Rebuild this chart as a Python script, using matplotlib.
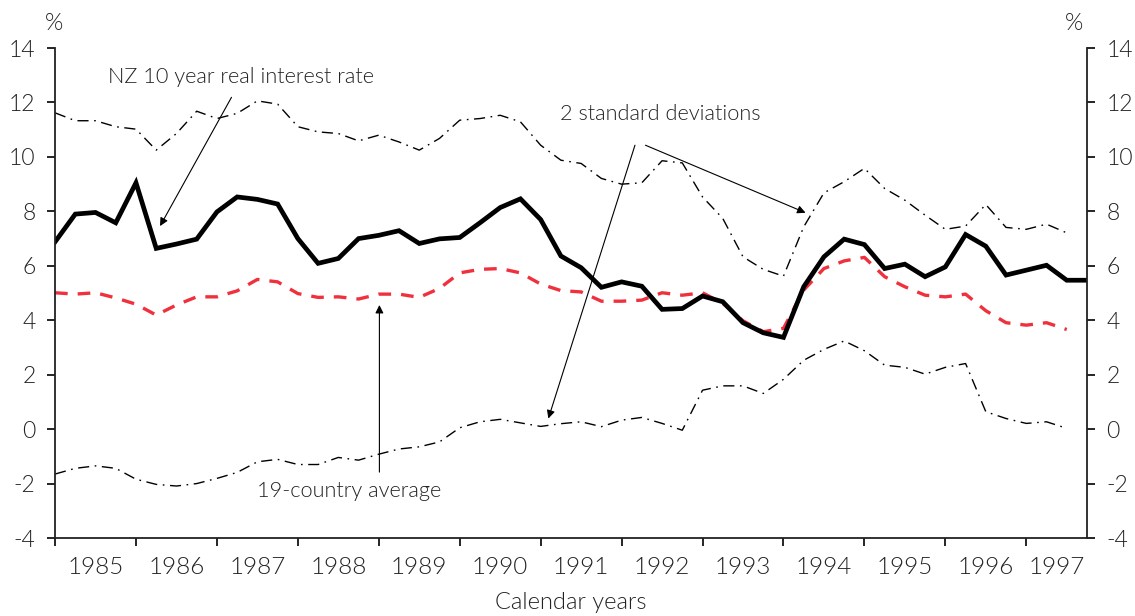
import matplotlib
matplotlib.use('Agg')
import matplotlib.pyplot as plt
import numpy as np

# quarterly data, 1985Q1 onwards
nz_rate = [6.88, 7.90, 7.96, 7.58, 9.05, 6.64, 6.80, 6.98, 7.98, 8.53, 8.44, 8.27,
           7.00, 6.09, 6.27, 7.00, 7.12, 7.29, 6.82, 6.99, 7.04, 7.58, 8.14, 8.46,
           7.70, 6.36, 5.93, 5.21, 5.41, 5.25, 4.40, 4.43, 4.89, 4.68, 3.91, 3.54,
           3.37, 5.23, 6.33, 6.98, 6.78, 5.90, 6.06, 5.60, 5.96, 7.15, 6.72, 5.66,
           5.84, 6.02, 5.47, 5.47]
avg19 = [5.01, 4.96, 5.01, 4.82, 4.59, 4.19, 4.56, 4.86, 4.86, 5.08, 5.50, 5.41,
         4.98, 4.84, 4.86, 4.78, 4.96, 4.96, 4.84, 5.17, 5.74, 5.87, 5.90, 5.74,
         5.33, 5.09, 5.04, 4.70, 4.70, 4.74, 5.01, 4.92, 5.01, 4.62, 3.98, 3.58,
         3.70, 5.11, 5.90, 6.18, 6.31, 5.60, 5.23, 4.92, 4.86, 4.96, 4.35, 3.91,
         3.82, 3.91, 3.66]
upper = [11.62, 11.33, 11.33, 11.11, 11.02, 10.25, 10.86, 11.68, 11.41, 11.60, 12.06, 11.94,
         11.11, 10.92, 10.86, 10.59, 10.80, 10.55, 10.25, 10.68, 11.35, 11.41, 11.53, 11.29,
         10.43, 9.88, 9.76, 9.21, 9.00, 9.05, 9.86, 9.78, 8.53, 7.74, 6.33, 5.87,
         5.62, 7.43, 8.68, 9.09, 9.58, 8.84, 8.41, 7.86, 7.34, 7.46, 8.25, 7.41,
         7.34, 7.53, 7.21]
lower = [-1.65, -1.44, -1.35, -1.44, -1.84, -2.03, -2.09, -2.00, -1.81, -1.59, -1.20, -1.11,
         -1.30, -1.30, -1.04, -1.14, -0.92, -0.73, -0.65, -0.47, 0.05, 0.27, 0.36, 0.23,
         0.10, 0.20, 0.27, 0.09, 0.33, 0.43, 0.21, -0.04, 1.43, 1.59, 1.59, 1.31,
         1.83, 2.53, 2.93, 3.24, 2.88, 2.35, 2.27, 2.02, 2.27, 2.41, 0.64, 0.39,
         0.21, 0.27, 0.03]
years = list(range(1985, 1998))

plt.rcParams['font.family'] = ['Lato', 'DejaVu Sans']
plt.rcParams['font.weight'] = 300
plt.rcParams['axes.labelweight'] = 300
plt.rcParams['axes.unicode_minus'] = False
txt = '#222222'

fig = plt.figure(figsize=(11.35, 6.16), dpi=100)
ax = fig.add_axes([0.0485, 0.1266, 0.9092, 0.7954])

x_nz = np.arange(len(nz_rate))
x_oth = np.arange(len(avg19))

band_ls = (0, (8, 4, 1.2, 4))
ax.plot(x_oth, upper, color='black', lw=1.0, linestyle=band_ls)
ax.plot(x_oth, lower, color='black', lw=1.0, linestyle=band_ls)
ax.plot(x_oth, avg19, color='#f0303c', lw=2.4, linestyle=(0, (3.8, 3)))
ax.plot(x_nz, nz_rate, color='black', lw=3.4, solid_joinstyle='miter')

ax.set_xlim(0, 51)
ax.set_ylim(-4, 14)
ax.set_yticks(range(-4, 15, 2))

# year ticks at start of year, labels in the middle
ax.set_xticks(np.arange(0, 49, 4))
ax.set_xticklabels([])
mids = [4 * k + 2 for k in range(12)] + [49.5]
ax.set_xticks(mids, minor=True)
ax.set_xticklabels([str(y) for y in years], minor=True)
ax.tick_params(axis='x', which='minor', length=0, pad=14, labelsize=17.5, labelcolor=txt)
ax.tick_params(axis='x', which='major', length=6, width=1.2, direction='out')

ax.tick_params(axis='y', which='major', length=6, width=1.2, direction='out',
               labelsize=16.5, labelcolor=txt, pad=8, left=True, right=True,
               labelleft=True, labelright=True)

ax.spines['top'].set_visible(False)
for s in ['left', 'right', 'bottom']:
    ax.spines[s].set_linewidth(1.3)
    ax.spines[s].set_color('#222222')

ax.set_xlabel('Calendar years', fontsize=17, color=txt, labelpad=10)

fig.text(53.8 / 1135, 1 - 24 / 616, '%', ha='center', va='center', fontsize=17, color=txt)
fig.text(1074 / 1135, 1 - 24 / 616, '%', ha='center', va='center', fontsize=17, color=txt)

arrow = dict(arrowstyle='-|>', lw=0.8, color='black', mutation_scale=12,
             shrinkA=0, shrinkB=0)

ax.text(2.62, 12.70, 'NZ 10 year real interest rate', fontsize=15.7, color=txt,
        ha='left', va='baseline')
ax.annotate('', xy=(5.19, 7.46), xytext=(8.72, 12.19), arrowprops=arrow)

ax.text(24.96, 11.35, '2 standard deviations', fontsize=15.7, color=txt,
        ha='left', va='baseline')
ax.annotate('', xy=(24.38, 0.39), xytext=(28.66, 10.43), arrowprops=arrow)
ax.annotate('', xy=(37.09, 7.95), xytext=(29.18, 10.43), arrowprops=arrow)

ax.text(14.53, -2.49, '19-country average', fontsize=15.7, color=txt,
        ha='center', va='baseline')
ax.annotate('', xy=(16.03, 4.56), xytext=(16.03, -1.58), arrowprops=arrow)

fig.savefig('out.png', dpi=100)
